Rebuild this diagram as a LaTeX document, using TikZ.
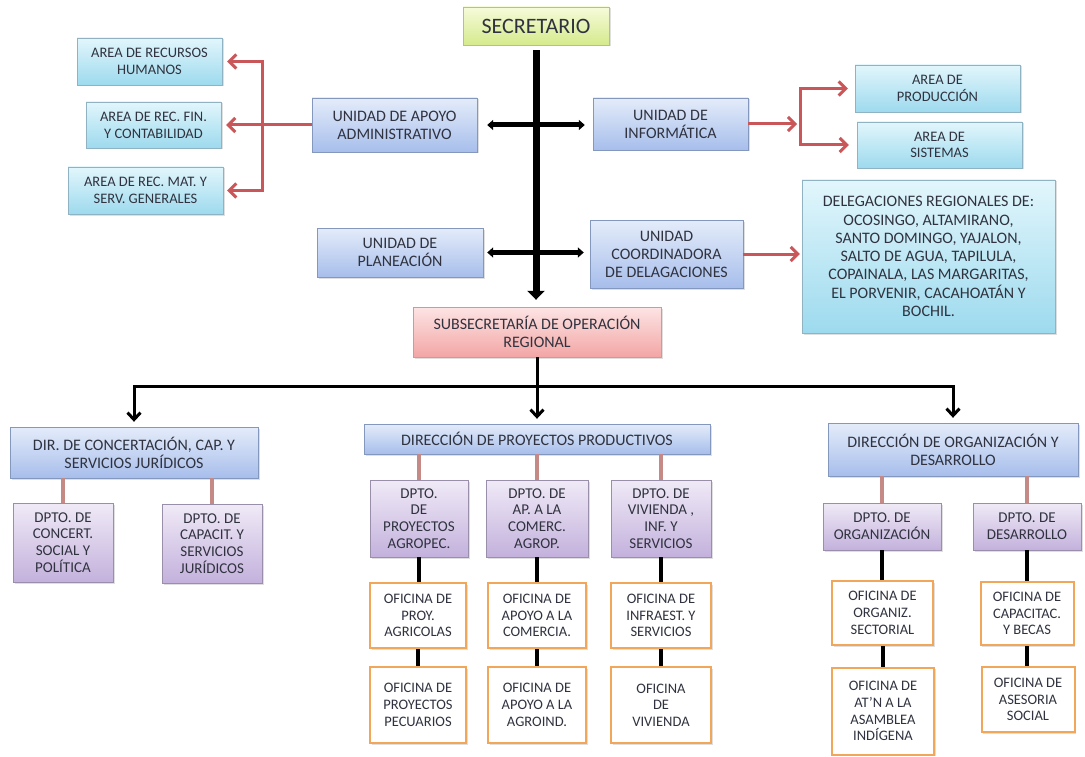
\documentclass[tikz,border=0pt]{standalone}
\usepackage{fontspec}
\setmainfont{Carlito}
\usepackage{tikz}
\usetikzlibrary{
    positioning,
    arrows.meta,
    shadows,
    calc
  }
\definecolor{txt}{HTML}{30333F}
\definecolor{cyanT}{HTML}{E2F6FC}
\definecolor{cyanB}{HTML}{9DDAEE}
\definecolor{cyanD}{HTML}{8FB3C2}
\definecolor{blueT}{HTML}{E4ECFA}
\definecolor{blueB}{HTML}{A7BEEB}
\definecolor{blueD}{HTML}{8497BD}
\definecolor{lilaT}{HTML}{F0EAF7}
\definecolor{lilaB}{HTML}{C3B1DC}
\definecolor{lilaD}{HTML}{9A8FAB}
\definecolor{limeT}{HTML}{F6FBDA}
\definecolor{limeB}{HTML}{D5EA8C}
\definecolor{limeD}{HTML}{B5C18A}
\definecolor{rosaT}{HTML}{FDE4E4}
\definecolor{rosaB}{HTML}{F2A6A5}
\definecolor{rosaD}{HTML}{CF9997}
\definecolor{naranja}{HTML}{F2A65A}
\definecolor{rojo}{HTML}{C9575A}
\definecolor{enlace}{HTML}{C68A86}
\tikzstyle{caja}=[rectangle,draw,align=center,inner sep=1pt,text=txt,
  font=\fontsize{14.5}{16.7}\selectfont,
  drop shadow={shadow xshift=1.5pt,shadow yshift=-1.5pt,opacity=.25}]
\tikzstyle{area}=[caja,top color=cyanT,bottom color=cyanB,draw=cyanD]
\tikzstyle{unidad}=[caja,top color=blueT,bottom color=blueB,draw=blueD,
  font=\fontsize{16}{18}\selectfont]
\tikzstyle{dpto}=[caja,top color=lilaT,bottom color=lilaB,draw=lilaD,
  font=\fontsize{15}{16.7}\selectfont]
\tikzstyle{oficina}=[caja,fill=white,draw=naranja,line width=2pt]
\tikzstyle{eje}=[line width=7pt,-{Triangle[length=9pt,width=17pt]}]
\tikzstyle{barra}=[line width=5pt,{Triangle[length=6pt,width=10pt]}-{Triangle[length=6pt,width=10pt]}]
\tikzstyle{flecha}=[line width=3pt,rojo,-{Straight Barb[length=7pt,width=14pt]}]
\tikzstyle{dobleflecha}=[line width=3pt,rojo,{Straight Barb[length=7pt,width=14pt]}-{Straight Barb[length=7pt,width=14pt]}]
\tikzstyle{rama}=[line width=3pt,-{Straight Barb[length=7pt,width=13pt]}]
\tikzstyle{liga}=[line width=3.5pt,enlace]
\tikzstyle{negra}=[line width=4pt]

\begin{document}
\begin{tikzpicture}[x=1pt,y=-1pt]
\useasboundingbox (0,0) rectangle (1085,757);
\node[caja,top color=limeT,bottom color=limeB,draw=limeD,minimum width=146,minimum height=38,
  font=\fontsize{22}{25}\selectfont] (sec) at (536,26) {SECRETARIO};
\node[area,minimum width=145,minimum height=47] (rh) at (149.5,61.5) {AREA DE RECURSOS\\HUMANOS};
\node[area,minimum width=135,minimum height=46] (fin) at (153.5,125) {AREA DE REC. FIN.\\Y CONTABILIDAD};
\node[area,minimum width=155,minimum height=47] (mat) at (145.5,190.5) {AREA DE REC. MAT. Y\\SERV. GENERALES};
\node[unidad,minimum width=165,minimum height=54] (apoyo) at (394.5,125) {UNIDAD DE APOYO\\ADMINISTRATIVO};
\node[unidad,minimum width=155,minimum height=52] (info) at (670.5,124) {UNIDAD DE\\INFORMÁTICA};
\node[area,minimum width=165,minimum height=47] (prod) at (937.5,88.5) {AREA DE\\PRODUCCIÓN};
\node[area,minimum width=165,minimum height=46] (sist) at (939.5,145) {AREA DE\\SISTEMAS};
\node[area,minimum width=253,minimum height=153,font=\fontsize{16}{18.3}\selectfont] (deleg) at (928.5,256.5)
  {DELEGACIONES REGIONALES DE:\\OCOSINGO, ALTAMIRANO,\\SANTO DOMINGO, YAJALON,\\SALTO DE AGUA, TAPILULA,\\COPAINALA, LAS MARGARITAS,\\EL PORVENIR, CACAHOATÁN Y\\BOCHIL.};
\node[unidad,minimum width=166,minimum height=49] (plan) at (400,252.5) {UNIDAD DE\\PLANEACIÓN};
\node[unidad,minimum width=153,minimum height=68] (coord) at (666.5,254) {UNIDAD\\COORDINADORA\\DE DELAGACIONES};
\node[caja,top color=rosaT,bottom color=rosaB,draw=rosaD,minimum width=248,minimum height=50,
  font=\fontsize{16}{18.5}\selectfont] (subsec) at (537,332)
  {SUBSECRETARÍA DE OPERACIÓN\\REGIONAL};

\node[unidad,minimum width=248,minimum height=51] (dirA) at (134,452.5) {DIR. DE CONCERTACIÓN, CAP. Y\\SERVICIOS JURÍDICOS};
\node[unidad,minimum width=346,minimum height=30] (dirB) at (537,439) {DIRECCIÓN DE PROYECTOS PRODUCTIVOS};
\node[unidad,minimum width=250,minimum height=53] (dirC) at (953,449.5) {DIRECCIÓN DE ORGANIZACIÓN Y\\DESARROLLO};

\node[dpto,minimum width=100,minimum height=79] (a1) at (63,542.5) {DPTO. DE\\CONCERT.\\SOCIAL Y\\POLÍTICA};
\node[dpto,minimum width=100,minimum height=79] (a2) at (212,543.5) {DPTO. DE\\CAPACIT. Y\\SERVICIOS\\JURÍDICOS};
\node[dpto,minimum width=98,minimum height=77] (b1) at (419,518.5) {DPTO.\\DE\\PROYECTOS\\AGROPEC.};
\node[dpto,minimum width=102,minimum height=77] (b2) at (537,518.5) {DPTO. DE\\AP. A LA\\COMERC.\\AGROP.};
\node[dpto,minimum width=100,minimum height=77] (b3) at (661,518.5) {DPTO. DE\\VIVIENDA ,\\INF. Y\\SERVICIOS};
\node[dpto,minimum width=118,minimum height=47] (c1) at (882,526.5) {DPTO. DE\\ORGANIZACIÓN};
\node[dpto,minimum width=108,minimum height=47] (c2) at (1027,526.5) {DPTO. DE\\DESARROLLO};

\node[oficina,minimum width=96,minimum height=65] (ob1) at (418,615.5) {OFICINA DE\\PROY.\\AGRICOLAS};
\node[oficina,minimum width=98,minimum height=65] (ob2) at (537,615.5) {OFICINA DE\\APOYO A LA\\COMERCIA.};
\node[oficina,minimum width=100,minimum height=65] (ob3) at (661,615.5) {OFICINA DE\\INFRAEST. Y\\SERVICIOS};
\node[oficina,minimum width=96,minimum height=76] (pb1) at (418,705) {OFICINA DE\\PROYECTOS\\PECUARIOS};
\node[oficina,minimum width=98,minimum height=76] (pb2) at (537,705) {OFICINA DE\\APOYO A LA\\AGROIND.};
\node[oficina,minimum width=100,minimum height=76] (pb3) at (661,705) {OFICINA\\DE\\VIVIENDA};
\node[oficina,minimum width=101,minimum height=64] (oc1) at (882.5,613) {OFICINA DE\\ORGANIZ.\\SECTORIAL};
\node[oficina,minimum width=93,minimum height=63] (oc2) at (1027,613.5) {OFICINA DE\\CAPACITAC.\\Y BECAS};
\node[oficina,minimum width=102,minimum height=87] (pc1) at (883,711) {OFICINA DE\\AT'N A LA\\ASAMBLEA\\INDÍGENA};
\node[oficina,minimum width=93,minimum height=65] (pc2) at (1028,699.5) {OFICINA DE\\ASESORIA\\SOCIAL};

\coordinate (bl) at (262,125);
\coordinate (br) at (800,124);
\coordinate (hb) at (537,386);

\draw[eje,shorten <=5pt,shorten >=7pt] (sec.south) -- (sec.south |- subsec.north);
\draw[barra,shorten <=10pt,shorten >=8pt] (apoyo.east) -- (apoyo.east -| info.west);
\draw[barra,shorten <=4pt,shorten >=6pt] (plan.east) -- (plan.east -| coord.west);

\draw[flecha,shorten >=5pt] (apoyo.west) -- (fin.east);
\draw[dobleflecha,shorten <=5pt,shorten >=4pt] (rh.east) -- (rh.east -| bl) -- (mat.east -| bl) -- (mat.east);
\draw[flecha,shorten >=3pt] (info.east) -- (br);
\draw[dobleflecha,shorten <=7pt,shorten >=8pt] (prod.west) -- (prod.west -| br) -- (sist.west -| br) -- (sist.west);
\draw[flecha,shorten >=2pt] (coord.east) -- (coord.east -| deleg.west);

\draw[rama,shorten >=5pt] (subsec.south) -- (dirB.north);
\draw[rama,shorten >=5pt] (hb) -| (dirA.north);
\draw[rama,shorten >=5pt] (hb) -| (dirC.north);

\foreach \d in {a1,a2} \draw[liga] (\d.north |- dirA.south) -- (\d.north);
\foreach \d in {b1,b2,b3} \draw[liga] (\d.north |- dirB.south) -- (\d.north);
\foreach \d in {c1,c2} \draw[liga] (\d.north |- dirC.south) -- (\d.north);
\foreach \a/\b in {b1/ob1,b2/ob2,b3/ob3,ob1/pb1,ob2/pb2,ob3/pb3,c1/oc1,c2/oc2,oc1/pc1,oc2/pc2}
  \draw[negra] (\a.south) -- (\a.south |- \b.north);
\end{tikzpicture}
\end{document}
